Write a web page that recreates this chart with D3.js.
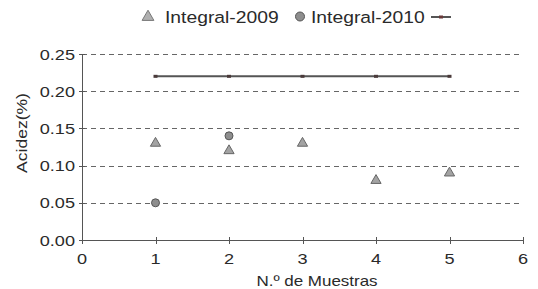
<!DOCTYPE html>
<html>
<head>
<meta charset="utf-8">
<script src="https://cdn.jsdelivr.net/npm/d3@7"></script>
<style>
  body { margin: 0; background: #fff; }
  svg text { font-family: "Liberation Sans", Arial, sans-serif; fill: #2a2a2a; }
</style>
</head>
<body>
<div id="chart"></div>
<script>
// datos
const muestras2009 = [1, 2, 3, 4, 5];
const acidez2009 = [0.13, 0.12, 0.13, 0.08, 0.09];
const muestras2010 = [1, 2];
const acidez2010 = [0.05, 0.14];
const muestrasLimite = [1, 2, 3, 4, 5];
const acidezLimite = [0.22, 0.22, 0.22, 0.22, 0.22];
const xTicks = [0, 1, 2, 3, 4, 5, 6];
const yTicks = [0, 0.05, 0.10, 0.15, 0.20, 0.25];
const seriesNames = ['Integral-2009', 'Integral-2010', ''];

const width = 538, height = 289;
const sx = 1.17; // el texto original está estirado en horizontal

const svg = d3.select('#chart')
  .append('svg')
  .attr('width', width)
  .attr('height', height);

const x = d3.scaleLinear().domain([0, 6]).range([82, 523]);
const y = d3.scaleLinear().domain([0, 0.25]).range([240, 54]);

// texto estirado
function label(g, px, py, txt, size, anchor, rot) {
  return g.append('text')
    .attr('transform', `translate(${px},${py}) rotate(${rot || 0}) scale(${sx},1)`)
    .attr('text-anchor', anchor || 'start')
    .style('font-size', size + 'px')
    .text(txt);
}

// líneas de rejilla punteadas
svg.append('g')
  .selectAll('line')
  .data(yTicks.filter(d => d > 0))
  .join('line')
  .attr('x1', x(0)).attr('x2', x(6))
  .attr('y1', d => Math.round(y(d)) + 0.5)
  .attr('y2', d => Math.round(y(d)) + 0.5)
  .attr('stroke', '#666')
  .attr('stroke-dasharray', '5,4');

// ejes
const axis = svg.append('g').attr('stroke', '#555').attr('stroke-width', 1);
axis.append('line')
  .attr('x1', x(0) + 0.5).attr('x2', x(0) + 0.5)
  .attr('y1', y(0.25)).attr('y2', y(0));
axis.append('line')
  .attr('x1', x(0)).attr('x2', x(6))
  .attr('y1', y(0) + 0.5).attr('y2', y(0) + 0.5);

axis.selectAll('.ty')
  .data(yTicks)
  .join('line')
  .attr('class', 'ty')
  .attr('x1', x(0) - 3).attr('x2', x(0) + 3)
  .attr('y1', d => Math.round(y(d)) + 0.5)
  .attr('y2', d => Math.round(y(d)) + 0.5);

axis.selectAll('.tx')
  .data(xTicks)
  .join('line')
  .attr('class', 'tx')
  .attr('x1', d => Math.round(x(d)) + 0.5)
  .attr('x2', d => Math.round(x(d)) + 0.5)
  .attr('y1', y(0) - 3).attr('y2', y(0) + 4);

// etiquetas de los ejes
const labels = svg.append('g');
yTicks.forEach(d => label(labels, 75, y(d) + 5.5, d3.format('.2f')(d), 15.5, 'end'));
xTicks.forEach(d => label(labels, x(d), 263.5, d, 15.5, 'middle'));
label(labels, 317, 285.5, 'N.º de Muestras', 14.5, 'middle');
label(labels, 27, 133, 'Acidez(%)', 15, 'middle', -90);

// serie límite
const line = d3.line()
  .x((d, i) => x(muestrasLimite[i]))
  .y(d => y(d));
svg.append('path')
  .datum(acidezLimite)
  .attr('d', line)
  .attr('fill', 'none')
  .attr('stroke', '#555')
  .attr('stroke-width', 2);
svg.append('g')
  .selectAll('rect')
  .data(acidezLimite)
  .join('rect')
  .attr('x', (d, i) => x(muestrasLimite[i]) - 2)
  .attr('y', d => y(d) - 1.5)
  .attr('width', 4).attr('height', 3)
  .attr('fill', '#4a3a3a');

// triángulos 2009
const tri = d3.symbol().type(d3.symbolTriangle).size(45);
svg.append('g')
  .selectAll('path')
  .data(acidez2009)
  .join('path')
  .attr('d', tri)
  .attr('transform', (d, i) => `translate(${x(muestras2009[i])},${y(d)})`)
  .attr('fill', '#a3a3a3')
  .attr('stroke', '#666')
  .attr('stroke-width', 1);

// círculos 2010
svg.append('g')
  .selectAll('circle')
  .data(acidez2010)
  .join('circle')
  .attr('cx', (d, i) => x(muestras2010[i]))
  .attr('cy', d => y(d))
  .attr('r', 4)
  .attr('fill', '#8e8e8e')
  .attr('stroke', '#555');

// leyenda
const leg = svg.append('g');
leg.append('path')
  .attr('d', d3.symbol().type(d3.symbolTriangle).size(60))
  .attr('transform', 'translate(148,17)')
  .attr('fill', '#b0b0b0')
  .attr('stroke', '#777');
label(leg, 165, 22.5, seriesNames[0], 16.5);
leg.append('circle')
  .attr('cx', 300).attr('cy', 16.5).attr('r', 4.5)
  .attr('fill', '#8e8e8e').attr('stroke', '#555');
label(leg, 311, 22.5, seriesNames[1], 16.5);
leg.append('line')
  .attr('x1', 431).attr('x2', 451)
  .attr('y1', 17).attr('y2', 17)
  .attr('stroke', '#555').attr('stroke-width', 2);
leg.append('rect')
  .attr('x', 439).attr('y', 15.5).attr('width', 4).attr('height', 3)
  .attr('fill', '#6a3a3a');
</script>
</body>
</html>
